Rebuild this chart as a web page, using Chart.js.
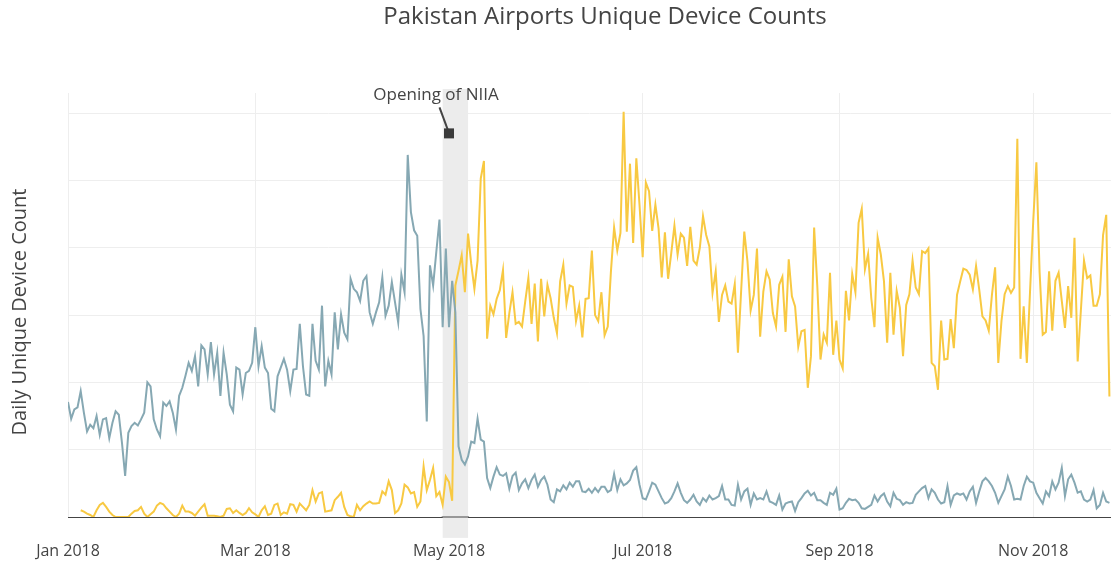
<!DOCTYPE html>
<html>
<head>
<meta charset="utf-8">
<title>Pakistan Airports Unique Device Counts</title>
<script src="https://cdn.jsdelivr.net/npm/chart.js@4/dist/chart.umd.min.js"></script>
<style>
  html, body { margin: 0; padding: 0; background: #fff; }
  #wrap { width: 1111px; height: 561px; }
</style>
</head>
<body>
<div id="wrap"><canvas id="chart" width="1111" height="561"></canvas></div>
<script>
// ==========================================
// DADOS (um valor por dia, 1 jan 2018 = dia 0)
// ==========================================
const chartTitle = 'Pakistan Airports Unique Device Counts';
const yTitle = 'Daily Unique Device Count';

// ticks do eixo x: dia do ano e rótulo
const tickDays = [0, 59, 120, 181, 243, 304];
const tickLabels = ['Jan 2018', 'Mar 2018', 'May 2018', 'Jul 2018', 'Sep 2018', 'Nov 2018'];

// linhas de grade do eixo y (sem rótulos)
const yGridValues = [0, 1000, 2000, 3000, 4000, 5000, 6000];

// aeroporto antigo (Benazir Bhutto)
const oldAirport = [
  1710,1460,1600,1630,1870,1550,1270,1370,1320,1500,
  1220,1450,1470,1170,1400,1570,1520,1100,610,1250,
  1350,1400,1360,1450,1550,2000,1940,1450,1300,1200,
  1700,1650,1720,1550,1300,1800,1920,2100,2290,2170,
  2390,1940,2550,2490,2120,2600,2120,2440,1800,2440,
  2120,1670,1570,2220,2190,1820,2140,2170,2290,2820,
  2240,2540,2220,2140,1610,1570,2090,2220,2350,2190,
  1870,2190,2200,2870,2240,1820,1800,2870,2320,2190,
  3140,1940,2320,2120,3040,2490,3010,2740,2640,3540,
  3390,3340,3210,3510,3580,3040,2870,3040,3190,3560,
  2990,3140,3490,3190,2890,3600,3340,5380,4530,4260,
  4180,3090,2690,1420,3740,3440,3940,4420,2820,3990,
  2820,3510,3040,1050,850,780,900,1120,1100,1460,
  1150,1120,580,430,600,740,630,610,650,420,
  610,660,400,500,560,430,550,630,450,550,
  600,480,260,220,410,380,470,410,510,450,
  530,530,380,370,420,360,430,370,450,450,
  370,400,640,400,560,470,500,550,690,740,
  480,280,260,380,510,480,380,280,200,220,
  280,380,500,360,250,210,260,330,230,180,
  280,230,320,260,280,310,460,260,260,180,
  170,480,260,380,420,180,350,260,280,260,
  380,230,210,180,320,110,200,220,230,90,
  220,280,350,390,320,360,250,250,210,180,
  360,330,420,110,130,210,270,250,260,210,
  130,120,150,180,320,230,310,350,230,160,
  360,270,250,180,220,200,210,330,380,430,
  460,280,410,360,260,200,220,460,180,320,
  350,330,350,260,380,450,210,380,530,580,
  530,460,360,210,310,410,600,460,260,270,
  260,460,600,530,510,360,280,200,380,310,
  530,410,510,730,310,560,630,510,360,380,
  260,230,260,400,130,180,360,230,210
];

// novo aeroporto (NIIA)
const newAirport = [
  null,null,null,null,100,80,50,30,0,100,
  180,210,150,80,30,0,0,0,0,0,
  50,90,100,150,50,0,40,80,170,210,
  190,130,80,30,0,50,170,80,80,60,
  20,80,140,190,20,20,20,10,0,20,
  120,130,60,100,60,30,60,130,70,40,
  0,100,160,30,50,180,200,30,70,50,
  190,180,80,200,150,100,180,400,230,350,
  370,80,90,100,250,300,360,150,30,10,
  0,180,100,160,200,230,200,200,210,380,
  330,530,400,60,100,200,480,440,350,370,
  150,230,750,400,550,730,310,370,180,600,
  520,240,3440,3660,3890,3340,4210,3760,3390,3810,
  5030,5290,2650,3140,3010,3240,3370,3670,2660,3030,
  3340,2870,2900,2830,3200,3550,2870,3470,2610,3540,
  2980,3450,3250,2960,2730,3500,3750,3170,3440,3420,
  2910,3140,2670,3240,3250,3960,3000,2910,3340,2700,
  2830,3650,4300,3960,4220,6020,4240,5250,4070,5330,
  4640,3860,4970,4840,4250,4640,4290,3560,4230,3540,
  3920,4330,3900,4210,4150,3730,4310,3810,3750,4000,
  4470,4190,4020,3330,3650,2900,3300,3440,3200,3170,
  3460,2440,3350,4240,3800,3070,3300,3990,2680,3350,
  3650,3530,3030,2830,3450,3570,2750,3830,3280,3130,
  2530,2760,2780,1920,2390,4300,3430,2340,2710,2590,
  3630,2410,2920,2340,2210,3360,2920,3610,3340,4370,
  4580,3680,3910,3250,2820,4150,3900,3500,2590,3630,
  2710,3360,3110,2390,3150,3310,3810,3410,3310,3950,
  3920,3990,2290,2240,1890,2920,2340,2350,2940,2510,
  3300,3500,3690,3670,3600,3380,3730,3380,2980,2920,
  2770,3300,3710,2290,2910,3310,3430,3330,3410,5620,
  2350,3130,2290,3350,4390,5270,3650,2710,2750,3650,
  2770,3510,3630,3210,2810,3430,2960,4150,2310,3060,
  3810,3550,3590,3140,3140,3310,4190,4490,1790
];

// faixa cinza e anotação da abertura
const bandDays = [118, 126];
const noteDay = 120;
const noteValue = 5700;
const noteText = 'Opening of NIIA';

const FONT = '"Open Sans", "DejaVu Sans", sans-serif';
const TEXT = '#444';

function toPoints(arr) {
    return arr.map((v, i) => ({ x: i, y: v }));
}

// ==========================================
// PLUGIN: faixa, anotação e títulos
// ==========================================
const overlay = {
    id: 'overlay',
    beforeDatasetsDraw(chart) {
        const xs = chart.scales.x, ys = chart.scales.y;
        const ctx = chart.ctx;
        const x0 = xs.getPixelForValue(bandDays[0]);
        const x1 = xs.getPixelForValue(bandDays[1]);
        const y0 = ys.getPixelForValue(6360);
        const y1 = ys.getPixelForValue(-310);
        ctx.save();
        ctx.fillStyle = '#ececec';
        ctx.fillRect(x0, y0, x1 - x0, y1 - y0);
        // linha do zero por cima da faixa
        const yz = ys.getPixelForValue(0);
        ctx.strokeStyle = TEXT;
        ctx.lineWidth = 1;
        ctx.beginPath();
        ctx.moveTo(x0 - 1, yz);
        ctx.lineTo(x1 + 1, yz);
        ctx.stroke();
        ctx.restore();
    },
    afterDatasetsDraw(chart) {
        const xs = chart.scales.x, ys = chart.scales.y;
        const ctx = chart.ctx;
        const px = xs.getPixelForValue(noteDay);
        const py = ys.getPixelForValue(noteValue);
        ctx.save();
        ctx.strokeStyle = TEXT;
        ctx.lineWidth = 2;
        ctx.beginPath();
        ctx.moveTo(px - 9.5, py - 26);
        ctx.lineTo(px - 1, py - 3);
        ctx.stroke();
        ctx.fillStyle = '#3a3a3a';
        ctx.fillRect(px - 5, py - 5, 10, 10);
        ctx.fillStyle = TEXT;
        ctx.font = '17px ' + FONT;
        ctx.textAlign = 'center';
        ctx.textBaseline = 'middle';
        ctx.fillText(noteText, px - 13, py - 38);
        ctx.restore();
    },
    afterDraw(chart) {
        const ctx = chart.ctx;
        ctx.save();
        ctx.fillStyle = TEXT;
        ctx.textAlign = 'center';
        ctx.textBaseline = 'middle';
        ctx.font = '24px ' + FONT;
        ctx.fillText(chartTitle, 605, 17);
        ctx.translate(20, 312);
        ctx.rotate(-Math.PI / 2);
        ctx.font = '20px ' + FONT;
        ctx.fillText(yTitle, 0, 0);
        ctx.restore();
    }
};

// ==========================================
// GRÁFICO
// ==========================================
const ctx = document.getElementById('chart').getContext('2d');
new Chart(ctx, {
    type: 'line',
    data: {
        datasets: [
            { label: 'Old Islamabad Airport', data: toPoints(oldAirport), borderColor: '#86a8b3', borderWidth: 2, pointRadius: 0, tension: 0 },
            { label: 'New Islamabad International Airport', data: toPoints(newAirport), borderColor: '#f8c942', borderWidth: 2, pointRadius: 0, tension: 0 }
        ]
    },
    options: {
        responsive: false,
        animation: false,
        devicePixelRatio: 1,
        layout: { padding: { top: 93, left: 0, right: 0, bottom: 0 } },
        plugins: { legend: { display: false }, tooltip: { enabled: false } },
        scales: {
            x: {
                type: 'linear',
                min: 0,
                max: 328.5,
                afterFit: (s) => { s.height = 44; },
                afterBuildTicks: (s) => { s.ticks = tickDays.map(v => ({ value: v })); },
                grid: { color: '#eeeeee', lineWidth: 1, drawTicks: false },
                border: { display: true, color: TEXT, width: 1 },
                ticks: {
                    autoSkip: false,
                    maxRotation: 0,
                    padding: 25,
                    color: TEXT,
                    font: { family: FONT, size: 16 },
                    callback: (v) => tickLabels[tickDays.indexOf(v)]
                }
            },
            y: {
                min: 0,
                max: 6300,
                afterFit: (s) => { s.width = 68; },
                afterBuildTicks: (s) => { s.ticks = yGridValues.map(v => ({ value: v })); },
                grid: {
                    color: (c) => c.tick && c.tick.value === 0 ? 'rgba(0,0,0,0)' : '#eeeeee',
                    lineWidth: 1,
                    drawTicks: false
                },
                border: { display: false },
                ticks: { display: false }
            }
        }
    },
    plugins: [overlay]
});
</script>
</body>
</html>
